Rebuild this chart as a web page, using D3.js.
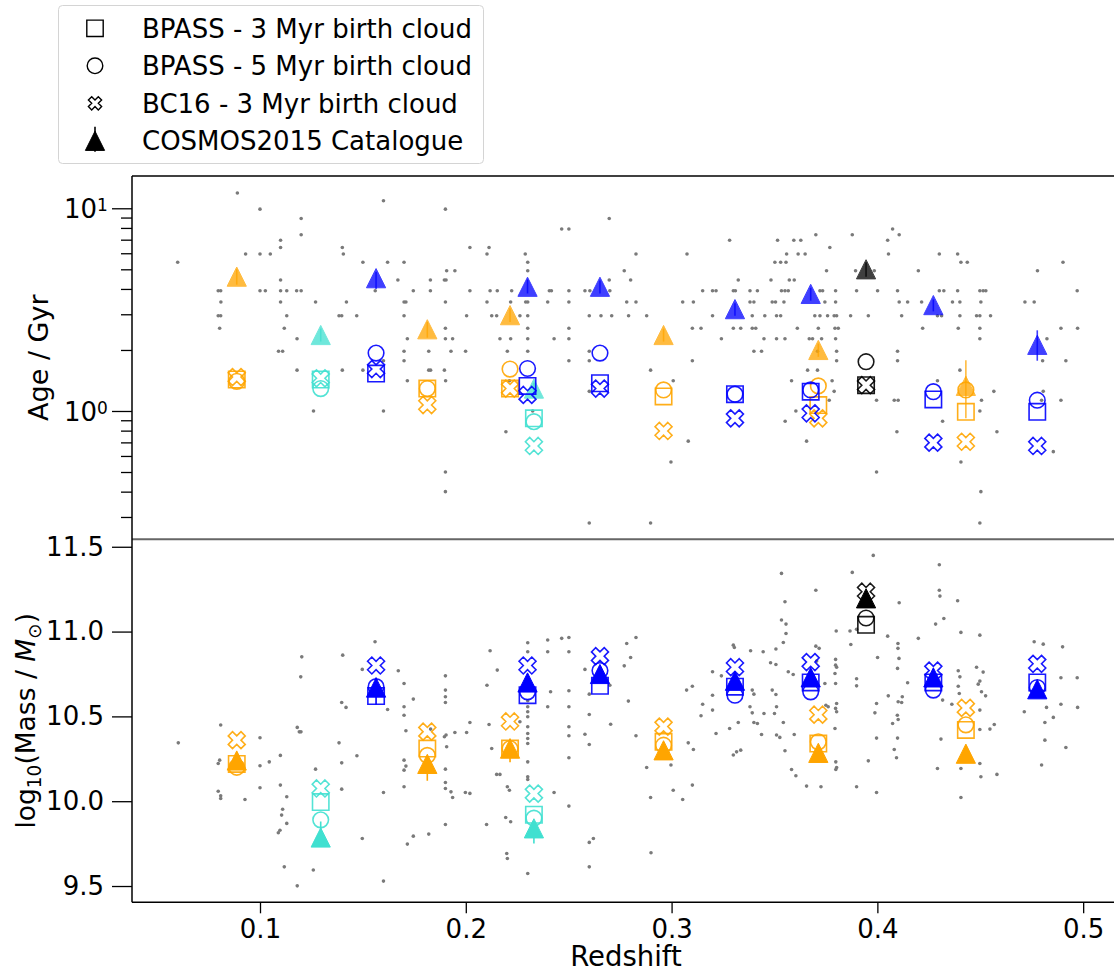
<!DOCTYPE html>
<html>
<head>
<meta charset="utf-8">
<script src="https://cdn.jsdelivr.net/npm/d3@7"></script>
<style>
  body { margin: 0; background: #fff; }
  text { font-family: "DejaVu Sans", sans-serif; fill: #000; }
</style>
</head>
<body>
<svg id="chart" width="1114" height="973"></svg>
<script>
// group redshifts and class (0 turquoise, 1 orange, 2 blue, 3 black)
var redshift   = [0.0887, 0.1295, 0.1564, 0.1813, 0.2215, 0.2300, 0.2331, 0.2652, 0.2961, 0.3308, 0.3676, 0.3713, 0.3945, 0.4272, 0.4430, 0.4777];
var groupClass = [1, 0, 2, 1, 1, 2, 0, 2, 1, 2, 2, 1, 3, 2, 1, 2];

// age / Gyr
var ageCosmos = [4.6, 2.37, 4.52, 2.53, 2.97, 4.1, 1.29, 4.1, 2.37, 3.18, 3.78, 2.0, 5.0, 3.33, 1.33, 2.12];
var ageErrLo  = [4.2, 2.2, 4.0, 2.3, 2.75, 3.8, 1.2, 3.8, 2.2, 2.95, 3.5, 1.85, 4.6, 3.1, 0.92, 1.77];
var ageErrHi  = [5.0, 2.55, 4.85, 2.75, 3.2, 4.45, 1.38, 4.4, 2.55, 3.4, 4.05, 2.15, 5.4, 3.55, 1.78, 2.5];
var ageBpass3 = [1.43, 1.43, 1.53, 1.29, 1.29, 1.33, 0.92, 1.37, 1.18, 1.21, 1.245, 1.07, 1.34, 1.14, 0.99, 0.99];
var ageBpass5 = [1.40, 1.29, 1.93, 1.29, 1.61, 1.62, 0.886, 1.93, 1.27, 1.21, 1.27, 1.33, 1.75, 1.245, 1.27, 1.13];
var ageBc16   = [1.47, 1.45, 1.61, 1.07, 1.29, 1.2, 0.672, 1.29, 0.797, 0.92, 0.974, 0.92, 1.34, 0.698, 0.705, 0.672];

// log10 mass
var massCosmos = [10.24, 9.786, 10.67, 10.22, 10.31, 10.70, 9.84, 10.75, 10.30, 10.71, 10.73, 10.285, 11.196, 10.73, 10.28, 10.66];
var massErrLo  = [10.20, 9.78, 10.57, 10.12, 10.23, 10.66, 9.75, 10.71, 10.27, 10.68, 10.70, 10.25, 11.16, 10.70, 10.25, 10.63];
var massErrHi  = [10.28, 9.88, 10.73, 10.26, 10.37, 10.74, 9.88, 10.79, 10.33, 10.74, 10.76, 10.32, 11.23, 10.76, 10.31, 10.69];
var massBpass3 = [10.22, 9.995, 10.62, 10.31, 10.31, 10.625, 9.92, 10.68, 10.35, 10.675, 10.70, 10.34, 11.04, 10.70, 10.42, 10.70];
var massBpass5 = [10.20, 9.89, 10.675, 10.27, 10.31, 10.645, 9.90, 10.77, 10.33, 10.625, 10.645, 10.35, 11.08, 10.655, 10.45, 10.67];
var massBc16   = [10.36, 10.075, 10.80, 10.41, 10.47, 10.80, 10.045, 10.855, 10.44, 10.79, 10.82, 10.51, 11.235, 10.77, 10.55, 10.81];

// catalogue galaxies [redshift, age]
var ageDots = [
  [0.060,5.42],[0.089,11.9],[0.093,5.95],[0.100,9.9],[0.100,5.95],[0.105,5.95],[0.110,6.95],[0.110,6.4],[0.120,8.9],[0.120,7.4],
  [0.140,6.4],[0.1405,5.95],[0.150,5.42],[0.162,5.42],[0.167,4.43],[0.160,10.9],[0.0797,3.92],[0.0809,3.92],[0.081,3.45],[0.0797,2.95],
  [0.0809,2.95],[0.0804,2.56],[0.100,3.92],[0.1026,3.92],[0.110,4.43],[0.110,3.92],[0.113,3.92],[0.1178,3.92],[0.120,3.92],[0.110,3.45],
  [0.113,2.95],[0.1118,2.56],[0.118,2.27],[0.109,1.97],[0.111,1.97],[0.127,3.45],[0.142,3.45],[0.1384,2.95],[0.1397,2.95],[0.147,2.95],
  [0.118,1.59],[0.140,1.59],[0.150,1.59],[0.160,1.77],[0.126,1.0],[0.160,1.0],[0.156,3.92],
  [0.1901,9.9],[0.2697,8.9],[0.2466,7.9],[0.2501,7.9],[0.3282,6.95],[0.202,6.4],[0.2113,6.4],[0.2103,5.95],[0.2289,5.95],[0.2827,5.95],
  [0.3075,5.95],[0.170,5.42],[0.2301,5.42],[0.1907,4.92],[0.1947,4.92],[0.2301,4.92],[0.277,4.92],[0.1828,4.43],[0.1896,4.43],[0.1904,4.43],
  [0.2697,4.43],[0.2801,4.43],[0.3324,4.43],[0.1745,3.92],[0.1828,3.92],[0.202,3.92],[0.2118,3.92],[0.2153,3.92],[0.2223,3.92],[0.2406,3.92],
  [0.2416,3.92],[0.2501,3.92],[0.2579,3.92],[0.2603,3.92],[0.270,3.92],[0.3151,3.92],[0.3199,3.92],[0.3216,3.92],[0.330,3.92],[0.331,3.92],
  [0.3381,3.92],[0.3417,3.92],[0.170,3.45],[0.1709,3.45],[0.1901,3.45],[0.2103,3.45],[0.2218,3.45],[0.2291,3.45],[0.2301,3.45],[0.2398,3.45],
  [0.2501,3.45],[0.2782,3.45],[0.2827,3.45],[0.3054,3.45],[0.3106,3.45],[0.3381,3.45],[0.340,3.45],[0.170,2.95],[0.2004,2.95],[0.2126,2.95],
  [0.215,2.95],[0.2263,2.95],[0.2301,2.95],[0.260,2.95],[0.2657,2.95],[0.2709,2.95],[0.2791,2.95],[0.2879,2.95],[0.3199,2.95],[0.3392,2.95],
  [0.1901,2.56],[0.2301,2.56],[0.2501,2.56],[0.3101,2.56],[0.3143,2.56],[0.330,2.56],[0.3336,2.56],[0.3392,2.56],[0.3409,2.56],[0.1716,2.27],
  [0.1901,2.27],[0.1936,2.27],[0.2166,2.27],[0.2218,2.27],[0.2301,2.27],[0.2429,2.27],[0.2501,2.27],[0.3242,2.27],[0.170,1.97],[0.182,1.97],
  [0.1928,1.97],[0.1999,1.97],[0.2202,1.97],[0.2301,1.97],[0.260,1.97],[0.340,1.97],[0.170,1.77],[0.2501,1.77],[0.260,1.77],[0.3101,1.77],
  [0.182,1.59],[0.1829,1.59],[0.1896,1.59],[0.2898,1.59],[0.1716,1.41],[0.1902,1.41],[0.2212,1.41],[0.3008,1.41],[0.260,1.25],[0.2325,1.0],
  [0.2195,0.79],[0.3081,0.71],[0.2997,0.56],[0.1901,0.50],[0.1901,0.40],[0.260,0.28],[0.2898,0.28],
  [0.4074,7.9],[0.4106,7.4],[0.3701,7.4],[0.3878,7.4],[0.3515,6.95],[0.3594,6.95],[0.3628,6.95],[0.405,6.95],[0.3769,6.4],[0.3559,5.95],
  [0.3615,5.95],[0.3649,5.95],[0.4054,5.95],[0.4301,5.95],[0.439,5.95],[0.3502,5.42],[0.353,5.42],[0.3556,5.42],[0.4406,5.42],[0.4437,5.42],
  [0.4902,5.42],[0.3753,4.92],[0.3894,4.92],[0.3985,4.92],[0.4199,4.92],[0.4778,4.92],[0.3483,4.43],[0.3572,4.43],[0.3596,4.43],[0.3534,3.92],
  [0.3551,3.92],[0.3567,3.92],[0.3721,3.92],[0.3734,3.92],[0.3797,3.92],[0.3899,3.92],[0.4001,3.92],[0.4098,3.92],[0.4301,3.92],[0.4323,3.92],
  [0.439,3.92],[0.4498,3.92],[0.4514,3.92],[0.4527,3.92],[0.4971,3.92],[0.3489,3.45],[0.3505,3.45],[0.3546,3.45],[0.3745,3.45],[0.3797,3.45],
  [0.4106,3.45],[0.4147,3.45],[0.4215,3.45],[0.4365,3.45],[0.4401,3.45],[0.4503,3.45],[0.4717,3.45],[0.4762,3.45],[0.3453,2.95],[0.351,2.95],
  [0.353,2.95],[0.3696,2.95],[0.3721,2.95],[0.3758,2.95],[0.379,2.95],[0.3802,2.95],[0.387,2.95],[0.3956,2.95],[0.4118,2.95],[0.4292,2.95],
  [0.4312,2.95],[0.4401,2.95],[0.4482,2.95],[0.4498,2.95],[0.455,2.95],[0.3611,2.56],[0.3713,2.56],[0.3794,2.56],[0.381,2.56],[0.422,2.56],
  [0.4393,2.56],[0.4498,2.56],[0.4892,2.56],[0.4973,2.56],[0.3449,2.27],[0.351,2.27],[0.3551,2.27],[0.3669,2.27],[0.3685,2.27],[0.3729,2.27],
  [0.3797,2.27],[0.4498,2.27],[0.4824,2.27],[0.3437,1.97],[0.3709,1.97],[0.3802,1.97],[0.4098,1.97],[0.3802,1.77],[0.4098,1.77],[0.4803,1.77],
  [0.4916,1.77],[0.3661,1.59],[0.3709,1.59],[0.4401,1.59],[0.3583,1.41],[0.378,1.41],[0.4292,1.41],[0.379,1.25],[0.4566,1.25],[0.4806,1.25],
  [0.3766,1.13],[0.3996,1.13],[0.4082,1.13],[0.4101,1.13],[0.4506,1.13],[0.4798,1.13],[0.4892,1.13],[0.3604,1.0],[0.4498,1.0],[0.3552,0.89],
  [0.4317,0.89],[0.4095,0.79],[0.4581,0.79],[0.3656,0.71],[0.4855,0.63],[0.4406,0.56],[0.3996,0.50],[0.4503,0.40],[0.4498,0.28]
];

// catalogue galaxies [redshift, log10 mass]
var massDots = [
  [0.0603,10.344],[0.0809,10.449],[0.0797,10.222],[0.0804,10.242],[0.0797,10.059],[0.0809,10.032],[0.0809,10.016],[0.0927,10.010],[0.1,10.374],[0.1,10.209],
  [0.1,10.079],[0.1045,10.232],[0.1099,10.270],[0.1099,10.095],[0.113,10.026],[0.111,9.953],[0.1105,9.918],[0.113,9.869],[0.1089,9.814],[0.1097,9.829],
  [0.1118,9.613],[0.1181,9.501],[0.1203,10.851],[0.1198,10.733],[0.1181,10.435],[0.1191,10.409],[0.1199,10.409],[0.127,10.189],[0.1259,9.594],[0.1384,10.344],
  [0.1397,10.226],[0.1397,10.071],[0.1402,10.861],[0.1397,10.582],[0.1418,10.553],[0.1471,10.268],[0.1497,9.780],[0.1497,10.777],[0.1559,10.94],[0.16,10.051],
  [0.16,9.529],[0.162,10.541],[0.1672,10.769],
  [0.170,10.694],[0.170,10.557],[0.170,10.507],[0.1745,10.602],[0.1709,10.415],[0.170,10.242],[0.1709,10.207],[0.170,10.183],[0.170,10.085],[0.1716,9.747],
  [0.1745,9.794],[0.182,9.806],[0.1829,10.425],[0.1901,10.739],[0.1901,10.655],[0.1901,10.616],[0.1901,10.582],[0.1896,10.380],[0.1904,10.390],[0.1907,10.321],
  [0.1901,10.189],[0.1901,10.110],[0.1901,10.075],[0.1928,10.055],[0.1936,10.022],[0.1901,9.863],[0.1947,10.405],[0.2004,10.405],[0.202,10.464],[0.1998,10.051],
  [0.202,10.046],[0.2103,10.684],[0.2118,10.887],[0.2113,10.452],[0.2126,10.311],[0.2153,10.773],[0.215,10.158],[0.2166,10.158],[0.2101,9.863],[0.2202,10.085],
  [0.2212,10.065],[0.2194,9.904],[0.2218,9.879],[0.2199,9.692],[0.2202,9.662],[0.2263,10.468],[0.2301,10.934],[0.2301,10.881],[0.2301,10.592],[0.2301,10.557],
  [0.2301,10.527],[0.2301,10.498],[0.2301,10.439],[0.2301,10.399],[0.2301,10.370],[0.2301,10.340],[0.2301,10.232],[0.2301,10.144],[0.2301,10.128],[0.2301,9.574],
  [0.2398,10.950],[0.2398,10.881],[0.2412,10.645],[0.2398,10.557],[0.2466,10.960],[0.2501,10.965],[0.2501,10.881],[0.2501,10.651],[0.2501,10.557],[0.2501,10.439],
  [0.2501,10.386],[0.2501,10.256],[0.2501,9.971],[0.2429,10.051],[0.2579,10.777],[0.2579,10.395],[0.26,10.631],[0.26,10.511],[0.26,10.334],[0.26,9.757],
  [0.2620,9.780],[0.26,9.613],[0.27,10.684],[0.2704,10.454],[0.277,10.798],[0.2790,10.590],[0.2782,10.930],[0.2801,10.847],[0.2827,10.965],[0.2827,10.386],
  [0.2879,10.199],[0.2898,10.022],[0.2900,9.696],[0.3008,10.065],[0.2997,10.213],[0.3054,10.010],[0.3101,10.095],[0.3073,10.655],[0.3101,10.678],[0.3081,10.344],
  [0.3106,10.305],[0.3143,10.504],[0.3151,10.572],[0.3199,10.763],[0.3199,10.625],[0.3199,10.537],[0.3242,10.739],[0.3216,10.399],[0.3282,10.429],[0.33,10.920],
  [0.3305,10.906],[0.33,10.272],[0.3316,10.291],[0.3336,10.301],[0.3324,10.464],[0.3384,10.887],[0.3392,10.655],[0.34,10.631],[0.3381,10.557],[0.3392,10.521],
  [0.34,10.464],[0.3417,10.458],
  [0.398,11.449],[0.4301,11.394],[0.3534,11.343],[0.3878,11.349],[0.4301,11.244],[0.4304,11.209],[0.3701,11.244],[0.3551,11.176],[0.439,11.182],[0.4106,11.170],
  [0.3534,11.068],[0.3556,11.044],[0.4323,11.077],[0.4283,11.044],[0.3556,10.989],[0.3800,11.003],[0.3867,11.003],[0.3899,11.013],[0.3543,10.936],[0.4406,10.995],
  [0.4498,10.979],[0.4050,10.973],[0.4199,10.960],[0.3871,10.924],[0.4100,10.930],[0.4100,10.901],[0.4105,10.842],[0.4001,10.847],[0.3507,10.897],[0.3445,10.881],
  [0.3481,10.816],[0.3507,10.806],[0.3567,10.763],[0.3591,10.747],[0.3701,10.914],[0.3717,10.901],[0.3705,10.826],[0.3797,10.836],[0.3797,10.802],[0.3802,10.790],
  [0.3794,10.753],[0.3797,10.694],[0.3745,10.694],[0.3899,10.722],[0.3899,10.680],[0.4098,10.783],[0.4147,10.698],[0.4393,10.769],[0.4401,10.733],[0.4482,10.790],
  [0.4514,10.761],[0.4498,10.708],[0.449,10.690],[0.4506,10.645],[0.4526,10.621],[0.4393,10.678],[0.4398,10.635],[0.4317,10.596],[0.4362,10.572],[0.3996,10.576],
  [0.3988,10.521],[0.4053,10.621],[0.4101,10.586],[0.4118,10.582],[0.4121,10.616],[0.4097,10.507],[0.4101,10.482],[0.4074,10.458],[0.3489,10.655],[0.3507,10.629],
  [0.351,10.557],[0.35,10.517],[0.3449,10.517],[0.3543,10.464],[0.3437,10.393],[0.351,10.390],[0.3526,10.376],[0.3596,10.393],[0.375,10.566],[0.3761,10.557],
  [0.3802,10.576],[0.3797,10.547],[0.3802,10.527],[0.3794,10.429],[0.3996,10.372],[0.4098,10.372],[0.4082,10.305],[0.4093,10.256],[0.3956,10.238],[0.3899,10.085],
  [0.3996,10.051],[0.3798,10.232],[0.3802,10.199],[0.3798,10.187],[0.3726,10.085],[0.3656,10.089],[0.3604,10.150],[0.3583,10.187],[0.3551,10.297],[0.4309,10.366],
  [0.4292,10.193],[0.4406,10.022],[0.4498,10.537],[0.4498,10.423],[0.4547,10.425],[0.4568,10.452],[0.4498,10.222],[0.4503,10.144],[0.4581,10.158],[0.4406,10.193],
  [0.4762,10.940],[0.4806,10.926],[0.49,10.910],[0.4892,10.728],[0.4971,10.728],[0.4892,10.572],[0.4973,10.553],[0.4822,10.553],[0.4714,10.527],[0.4814,10.464],
  [0.4855,10.494],[0.4814,10.360],[0.4916,10.317],[0.4798,10.213]
];

var redshiftTicks = [0.1, 0.2, 0.3, 0.4, 0.5];
var ageTicks = [1, 10];
var ageMinorTicks = [0.3, 0.4, 0.5, 0.6, 0.7, 0.8, 0.9, 2, 3, 4, 5, 6, 7, 8, 9];
var massTicks = [9.5, 10.0, 10.5, 11.0, 11.5];
var legendLabels = ["BPASS - 3 Myr birth cloud", "BPASS - 5 Myr birth cloud", "BC16 - 3 Myr birth cloud", "COSMOS2015 Catalogue"];

var classColour = ["#40e0d0", "#ffa500", "#0000ff", "#000000"];

var svg = d3.select("#chart");
var left = 132, right = 1120, topY = 176, midY = 539.3, bottomY = 902.3;

var x = d3.scaleLinear().domain([0.0378, 0.5179]).range([left, right]);
var yAge = d3.scaleLog().domain([0.2328, 14.43]).range([midY, topY]);
var yMass = d3.scaleLinear().domain([9.404, 11.544]).range([bottomY, midY]);

// marker shapes
var plusPts = [[-1,-3],[1,-3],[1,-1],[3,-1],[3,1],[1,1],[1,3],[-1,3],[-1,1],[-3,1],[-3,-1],[-1,-1]];
function xPath(s) {
  var k = s / 6 / Math.SQRT2;
  return d3.line()(plusPts.map(function (p) { return [(p[0] - p[1]) * k, (p[0] + p[1]) * k]; })) + "Z";
}
var shapes = {
  square: "M-8.2,-8.2H8.2V8.2H-8.2Z",
  circle: d3.symbol(d3.symbolCircle, Math.PI * 7.8 * 7.8)(),
  cross: xPath(18),
  tri: "M0,-9.6L9.6,9.6L-9.6,9.6Z"
};

var defs = svg.append("defs");
defs.append("clipPath").attr("id", "clipTop").append("rect")
  .attr("x", left).attr("y", topY).attr("width", right - left).attr("height", midY - topY);
defs.append("clipPath").attr("id", "clipBot").append("rect")
  .attr("x", left).attr("y", midY).attr("width", right - left).attr("height", bottomY - midY);

var order = d3.range(redshift.length).sort(function (a, b) { return groupClass[a] - groupClass[b]; });

function drawPanel(clip, yScale, dots, bp3, bp5, bc16, cos, lo, hi, triAlpha) {
  var g = svg.append("g").attr("clip-path", "url(#" + clip + ")");
  g.selectAll("circle.dot").data(dots).enter().append("circle")
    .attr("class", "dot")
    .attr("cx", function (d) { return x(d[0]); })
    .attr("cy", function (d) { return yScale(d[1]); })
    .attr("r", 1.8).attr("fill", "#7a7a7a");

  order.forEach(function (i) {
    var c = classColour[groupClass[i]];
    var open = [[shapes.square, bp3[i]], [shapes.circle, bp5[i]], [shapes.cross, bc16[i]]];
    open.forEach(function (m) {
      g.append("path").attr("d", m[0])
        .attr("transform", "translate(" + x(redshift[i]) + "," + yScale(m[1]) + ")")
        .attr("fill", "none").attr("stroke", c).attr("stroke-width", 1.6).attr("opacity", 0.9);
    });
    g.append("line")
      .attr("x1", x(redshift[i])).attr("x2", x(redshift[i]))
      .attr("y1", yScale(lo[i])).attr("y2", yScale(hi[i]))
      .attr("stroke", c).attr("stroke-width", 1.6).attr("opacity", triAlpha);
    g.append("path").attr("d", shapes.tri)
      .attr("transform", "translate(" + x(redshift[i]) + "," + yScale(cos[i]) + ")")
      .attr("fill", c).attr("stroke", c).attr("stroke-width", 1).attr("opacity", triAlpha);
  });
}

drawPanel("clipTop", yAge, ageDots, ageBpass3, ageBpass5, ageBc16, ageCosmos, ageErrLo, ageErrHi, 0.75);
drawPanel("clipBot", yMass, massDots, massBpass3, massBpass5, massBc16, massCosmos, massErrLo, massErrHi, 1);

// axes
var ageAxis = svg.append("g").attr("transform", "translate(" + left + ",0)")
  .call(d3.axisLeft(yAge).tickValues(ageTicks).tickSize(20).tickFormat(function () { return ""; }));
ageAxis.selectAll(".tick text").remove();
ageAxis.selectAll(".tick").each(function (d) {
  var t = d3.select(this);
  t.append("text").attr("class", "lab").attr("x", -35).attr("dy", "0.36em")
    .attr("text-anchor", "end").attr("font-size", 26).text("10");
  t.append("text").attr("class", "lab").attr("x", -35).attr("y", 2.7)
    .attr("text-anchor", "start").attr("font-size", 17).text(Math.round(Math.log10(d)));
});
svg.append("g").attr("transform", "translate(" + left + ",0)")
  .call(d3.axisLeft(yAge).tickValues(ageMinorTicks).tickSize(11).tickFormat(function () { return ""; }));

svg.append("g").attr("transform", "translate(" + left + ",0)")
  .call(d3.axisLeft(yMass).tickValues(massTicks).tickSize(20).tickPadding(8).tickFormat(d3.format(".1f")));

svg.append("g").attr("transform", "translate(0," + bottomY + ")")
  .call(d3.axisBottom(x).tickValues(redshiftTicks).tickSize(11).tickPadding(6).tickFormat(d3.format(".1f")));

svg.selectAll(".domain").remove();
svg.selectAll(".tick line").attr("stroke", "#000").attr("stroke-width", 1.3);
svg.selectAll(".tick text:not(.lab)").attr("font-size", 26).attr("font-family", "DejaVu Sans").attr("fill", "#000");
svg.selectAll(".tick text.lab").attr("font-family", "DejaVu Sans").attr("fill", "#000");

// spines
svg.append("line").attr("x1", left).attr("x2", 1114).attr("y1", topY).attr("y2", topY).attr("stroke", "#000").attr("stroke-width", 1.5);
svg.append("line").attr("x1", left).attr("x2", 1114).attr("y1", bottomY).attr("y2", bottomY).attr("stroke", "#000").attr("stroke-width", 1.5);
svg.append("line").attr("x1", left).attr("x2", 1114).attr("y1", midY).attr("y2", midY).attr("stroke", "#666").attr("stroke-width", 2);
svg.append("line").attr("x1", left).attr("x2", left).attr("y1", topY).attr("y2", bottomY).attr("stroke", "#000").attr("stroke-width", 1.5);

// axis labels
svg.append("text").attr("x", (left + right) / 2).attr("y", 966).attr("text-anchor", "middle")
  .attr("font-size", 27.5).text("Redshift");
svg.append("text").attr("transform", "translate(48," + (topY + midY) / 2 + ") rotate(-90)")
  .attr("text-anchor", "middle").attr("font-size", 27).text("Age / Gyr");
var massLabel = svg.append("text").attr("transform", "translate(35," + (midY + bottomY) / 2 + ") rotate(-90)")
  .attr("text-anchor", "middle").attr("font-size", 26.5);
massLabel.append("tspan").text("log");
massLabel.append("tspan").attr("font-size", "0.7em").attr("dy", "0.3em").text("10");
massLabel.append("tspan").attr("dy", "-0.21em").text("(Mass / ");
massLabel.append("tspan").attr("font-style", "italic").text("M");
massLabel.append("tspan").attr("font-size", "0.7em").attr("dy", "0.3em").text("\u2299");
massLabel.append("tspan").attr("dy", "-0.21em").text(")");

// legend
var leg = svg.append("g");
leg.append("rect").attr("x", 58.5).attr("y", 5.5).attr("width", 425).attr("height", 158).attr("rx", 4)
  .attr("fill", "#fff").attr("fill-opacity", 0.9).attr("stroke", "#d4d4d4").attr("stroke-width", 1);
var legShapes = [shapes.square, shapes.circle, xPath(14), shapes.tri];
legendLabels.forEach(function (lab, i) {
  var yy = 28.3 + i * 37.5;
  if (i === 3) {
    leg.append("line").attr("x1", 95).attr("x2", 95).attr("y1", yy - 14).attr("y2", yy + 11)
      .attr("stroke", "#000").attr("stroke-width", 1.6);
  }
  leg.append("path").attr("d", legShapes[i]).attr("transform", "translate(95," + yy + ")")
    .attr("fill", i === 3 ? "#000" : "none").attr("stroke", "#000").attr("stroke-width", i === 3 ? 1 : 1.4);
  leg.append("text").attr("x", 142).attr("y", yy).attr("dy", "0.36em").attr("font-size", 26).text(lab);
});
</script>
</body>
</html>
